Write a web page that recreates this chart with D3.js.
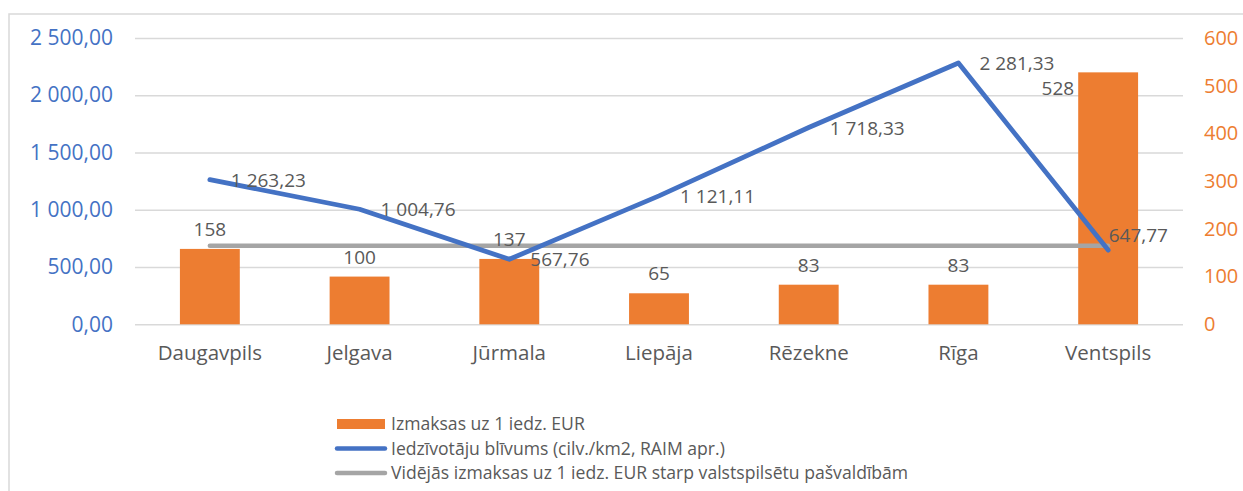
<!DOCTYPE html>
<html><head><meta charset="utf-8">
<script src="https://cdn.jsdelivr.net/npm/d3@7"></script>
<style>
html,body{margin:0;padding:0;background:#fff;}
text{font-family:"Open Sans",sans-serif;}
</style></head>
<body>
<svg id="chart" width="1243" height="491"></svg>
<script>
const categories = ["Daugavpils","Jelgava","Jūrmala","Liepāja","Rēzekne","Rīga","Ventspils"];
const costs = [158,100,137,65,83,83,528];
const density = [1263.23,1004.76,567.76,1121.11,1718.33,2281.33,647.77];
const avgCost = [164.86,164.86,164.86,164.86,164.86,164.86,164.86];
const leftTicks = [0,500,1000,1500,2000,2500];
const rightTicks = [0,100,200,300,400,500,600];
const legendLabels = ["Izmaksas uz 1 iedz. EUR","Iedzīvotāju blīvums (cilv./km2, RAIM apr.)","Vidējās izmaksas uz 1 iedz. EUR starp valstspilsētu pašvaldībām"];

const svg = d3.select("#chart");
const m = {left:135, right:1183, top:38, bottom:324.3};
const loc = d3.formatLocale({decimal:",", thousands:" ", grouping:[3], currency:["",""]});
const f2 = loc.format(",.2f");

// outer border
svg.append("rect").attr("x",9).attr("y",14).attr("width",1260).attr("height",500)
  .attr("fill","none").attr("stroke","#d9d9d9").attr("stroke-width",1.5);

const x = d3.scaleBand().domain(categories).range([m.left,m.right]).padding(0);
const yL = d3.scaleLinear().domain([0,2500]).range([m.bottom,m.top]);
const yR = d3.scaleLinear().domain([0,600]).range([m.bottom,m.top]);
const cx = d => x(d)+x.bandwidth()/2;

// grid + left axis
const gl = svg.append("g").attr("transform",`translate(${m.left},0)`)
  .call(d3.axisLeft(yL).tickValues(leftTicks).tickFormat(f2).tickSize(-(m.right-m.left)).tickPadding(22));
gl.select(".domain").remove();
gl.selectAll(".tick line").attr("stroke","#d9d9d9").attr("stroke-width",1.5);
gl.selectAll(".tick text").attr("fill","#4472c4").attr("font-size",21).attr("font-family","Open Sans");

// right axis
const gr = svg.append("g").attr("transform",`translate(${m.right},0)`)
  .call(d3.axisRight(yR).tickValues(rightTicks).tickFormat(d3.format("d")).tickSize(0).tickPadding(21));
gr.select(".domain").remove();
gr.selectAll(".tick text").attr("fill","#ed7d31").attr("font-size",20).attr("font-family","Open Sans");

// x labels
svg.append("g").selectAll("text").data(categories).join("text")
  .attr("x",d=>cx(d)).attr("y",360).attr("text-anchor","middle")
  .attr("fill","#595959").attr("font-size",20.5).text(d=>d);

// bars
const bw = x.bandwidth()*0.4;
svg.append("g").selectAll("rect").data(categories).join("rect")
  .attr("x",d=>cx(d)-bw/2).attr("width",bw)
  .attr("y",(d,i)=>yR(costs[i])).attr("height",(d,i)=>yR(0)-yR(costs[i]))
  .attr("fill","#ed7d31");

// avg line
svg.append("path").datum(categories)
  .attr("d",d3.line().x(d=>cx(d)).y((d,i)=>yR(avgCost[i])))
  .attr("fill","none").attr("stroke","#a5a5a5").attr("stroke-width",4.5).attr("stroke-linecap","round");

// density line
svg.append("path").datum(categories)
  .attr("d",d3.line().x(d=>cx(d)).y((d,i)=>yL(density[i])))
  .attr("fill","none").attr("stroke","#4472c4").attr("stroke-width",4.8).attr("stroke-linecap","round").attr("stroke-linejoin","round");

// bar labels
svg.append("g").selectAll("text").data(categories).join("text")
  .attr("x",(d,i)=> costs[i]>500 ? cx(d)-bw/2-4 : cx(d))
  .attr("y",(d,i)=> costs[i]>500 ? yR(costs[i])+23 : yR(costs[i])-13)
  .attr("text-anchor",(d,i)=> costs[i]>500 ? "end":"middle")
  .attr("fill","#595959").attr("font-size",19).text((d,i)=>costs[i]);

// line labels (right of point)
svg.append("g").selectAll("text").data(categories).join("text")
  .each(function(d,i){
    const t = d3.select(this).attr("font-size",19).attr("fill","#595959").text(f2(density[i]));
    const w = this.getComputedTextLength();
    let lx = cx(d)+21, ly = yL(density[i])+7;
    if (lx + w > m.right - 10) { lx = m.right - 15 - w; ly -= 15; }
    t.attr("x",lx).attr("y",ly);
  });

// legend
const lg = svg.append("g");
const ly0 = 424, lstep = 24.5;
lg.append("rect").attr("x",337).attr("y",ly0-5).attr("width",48).attr("height",10).attr("fill","#ed7d31");
lg.append("line").attr("x1",337).attr("x2",385).attr("y1",ly0+lstep).attr("y2",ly0+lstep)
  .attr("stroke","#4472c4").attr("stroke-width",4.5).attr("stroke-linecap","round");
lg.append("line").attr("x1",337).attr("x2",385).attr("y1",ly0+2*lstep).attr("y2",ly0+2*lstep)
  .attr("stroke","#a5a5a5").attr("stroke-width",4.5).attr("stroke-linecap","round");
lg.selectAll("text.l").data(legendLabels).join("text").attr("class","l")
  .attr("x",391).attr("y",(d,i)=>ly0+i*lstep+6).attr("fill","#595959").attr("font-size",17.6).text(d=>d);
</script>
</body></html>
